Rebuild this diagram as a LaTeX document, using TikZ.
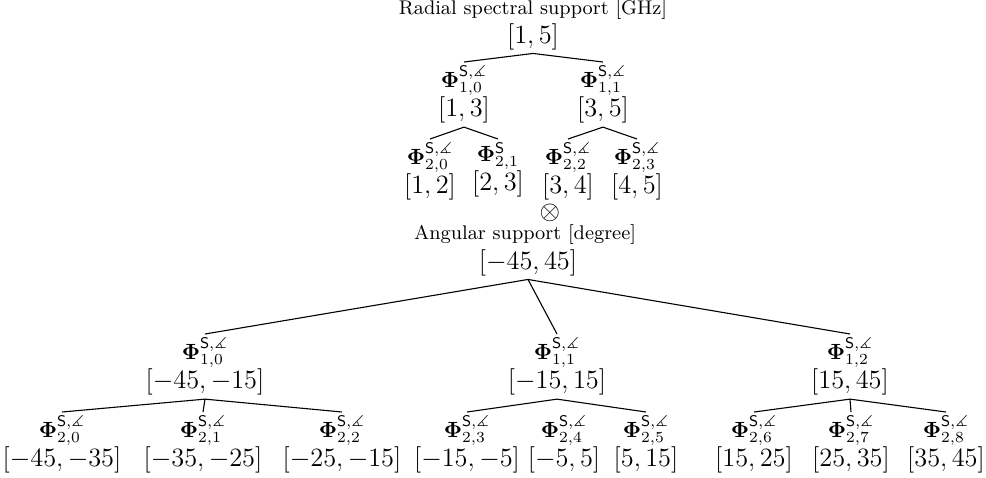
\documentclass[tikz,border=0pt]{standalone}
\usepackage{amssymb}
\newcommand{\PhiSA}[1]{$\mathbf{\Phi}^{\mathsf{S},\measuredangle}_{#1}$}
\newcommand{\PhiSo}[1]{$\mathbf{\Phi}^{\mathsf{S}}_{#1}$}
\newcommand{\ivl}[1]{\\[-0.5pt]{\large$#1$}}
\begin{document}
\begin{tikzpicture}[x=0.4545pt,y=-0.4545pt,
  lbl/.style={align=center, inner sep=1.5pt, anchor=north},
  rootn/.style={inner sep=1.5pt, font=\large},
  ttl/.style={inner sep=0pt, anchor=base, font=\fontsize{9}{11}\selectfont},
  tedge/.style={draw=black, line width=0.5pt}]
\useasboundingbox (0,0) rectangle (986,477);
% radial tree
\node[ttl] (rt) at (533,14.5) {Radial spectral support [GHz]};
\node[rootn] (r) at (533,36.5) {$[1,5]$};
\node[lbl] (r10) at (464,62) {\PhiSA{1,0}\ivl{[1,3]}};
\node[lbl] (r11) at (603,62) {\PhiSA{1,1}\ivl{[3,5]}};
\node[lbl] (r20) at (430,139) {\PhiSA{2,0}\ivl{[1,2]}};
\node[lbl] (r21) at (498,139) {\PhiSo{2,1}\ivl{[2,3]}};
\node[lbl] (r22) at (568,139) {\PhiSA{2,2}\ivl{[3,4]}};
\node[lbl] (r23) at (637,139) {\PhiSA{2,3}\ivl{[4,5]}};
\draw[tedge] (r.south) -- (r10.north);
\draw[tedge] (r.south) -- (r11.north);
\draw[tedge] (r10.south) -- (r20.north);
\draw[tedge] (r10.south) -- (r21.north);
\draw[tedge] (r11.south) -- (r22.north);
\draw[tedge] (r11.south) -- (r23.north);
% tensor product
\node[inner sep=0pt,font=\large] (ot) at (550,213) {$\otimes$};
% angular tree
\node[ttl] (at) at (525,239.5) {Angular support [degree]};
\node[rootn] (a) at (528,262.5) {$[-45,45]$};
\node[lbl] (a10) at (205,334) {\PhiSA{1,0}\ivl{[-45,-15]}};
\node[lbl] (a11) at (557,334) {\PhiSA{1,1}\ivl{[-15,15]}};
\node[lbl] (a12) at (850,334) {\PhiSA{1,2}\ivl{[15,45]}};
\node[lbl] (a20) at (62,412) {\PhiSA{2,0}\ivl{[-45,-35]}};
\node[lbl] (a21) at (203,412) {\PhiSA{2,1}\ivl{[-35,-25]}};
\node[lbl] (a22) at (342,412) {\PhiSA{2,2}\ivl{[-25,-15]}};
\node[lbl] (a23) at (467,412) {\PhiSA{2,3}\ivl{[-15,-5]}};
\node[lbl] (a24) at (564,412) {\PhiSA{2,4}\ivl{[-5,5]}};
\node[lbl] (a25) at (646,412) {\PhiSA{2,5}\ivl{[5,15]}};
\node[lbl] (a26) at (754,412) {\PhiSA{2,6}\ivl{[15,25]}};
\node[lbl] (a27) at (851,412) {\PhiSA{2,7}\ivl{[25,35]}};
\node[lbl] (a28) at (946,412) {\PhiSA{2,8}\ivl{[35,45]}};
\draw[tedge] (a.south) -- (a10.north);
\draw[tedge] (a.south) -- (a11.north);
\draw[tedge] (a.south) -- (a12.north);
\draw[tedge] (a10.south) -- (a20.north);
\draw[tedge] (a10.south) -- (a21.north);
\draw[tedge] (a10.south) -- (a22.north);
\draw[tedge] (a11.south) -- (a23.north);
\draw[tedge] (a11.south) -- (a25.north);
\draw[tedge] (a12.south) -- (a26.north);
\draw[tedge] (a12.south) -- (a27.north);
\draw[tedge] (a12.south) -- (a28.north);
\end{tikzpicture}
\end{document}
